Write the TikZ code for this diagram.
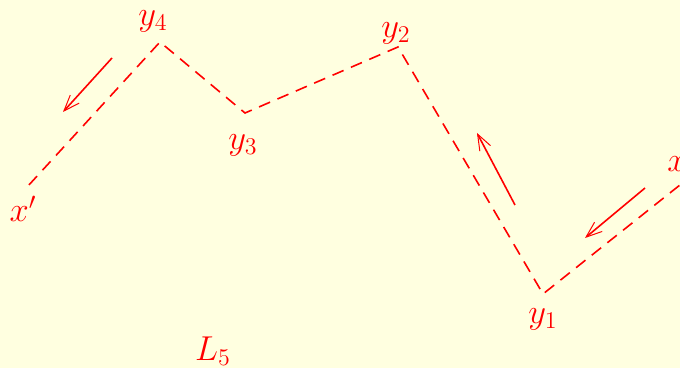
\documentclass[tikz,border=0pt]{standalone}
\usetikzlibrary{arrows.meta}
\definecolor{bg}{HTML}{FFFFE0}
\begin{document}
\begin{tikzpicture}[x=0.5pt,y=-0.5pt,
  path/.style={draw=red,line width=0.8pt,dash pattern=on 6pt off 4pt},
  mv/.style={draw=red,line width=0.8pt,-{Straight Barb[length=8pt,width=6pt,line width=0.5pt]}},
  lab/.style={text=red,font=\fontsize{17.5}{21}\selectfont,inner sep=0pt}]
\useasboundingbox[fill=bg] (0,0) rectangle (680,368);
\clip (0,0) rectangle (680,368);
\coordinate (xs) at (695,173);
\coordinate (v1) at (543,294);
\coordinate (v2) at (398,47);
\coordinate (v3) at (245,113);
\coordinate (v4) at (160,42);
\coordinate (xe) at (28,186);
\draw[path] (xs) -- (v1) -- (v2) -- (v3) -- (v4) -- (xe);
\coordinate (a1s) at (645,188); \coordinate (a1e) at (585,238);
\coordinate (a2s) at (515,205); \coordinate (a2e) at (477,133);
\coordinate (a3s) at (112,58); \coordinate (a3e) at (63,112);
\draw[mv] (a1s) -- (a1e);
\draw[mv] (a2s) -- (a2e);
\draw[mv] (a3s) -- (a3e);
\node[lab] (lx) at (677,164) {$x$};
\node[lab] (ly1) at (543,319) {$y_1$};
\node[lab] (ly2) at (396,33) {$y_2$};
\node[lab] (ly3) at (243,145) {$y_3$};
\node[lab] (ly4) at (153,21) {$y_4$};
\node[lab] (lxp) at (23,209) {$x'$};
\node[lab] (l5) at (213,351) {$L_5$};
\end{tikzpicture}
\end{document}
